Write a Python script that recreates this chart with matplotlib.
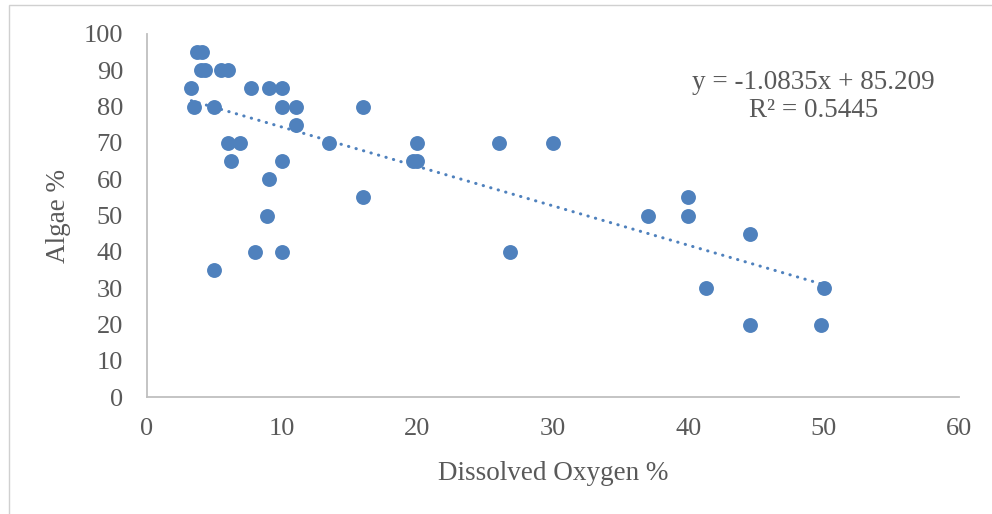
import matplotlib
matplotlib.use('Agg')
import matplotlib.pyplot as plt
import numpy as np
from matplotlib.patches import Rectangle

# dissolved oxygen (%) vs algae (%)
oxygen = [3.7, 4.1,
          4.0, 4.3, 5.5, 6.0,
          3.3, 7.7, 9.0, 10.0,
          3.5, 5.0, 10.0, 11.0, 16.0,
          11.0,
          6.0, 6.9, 13.5, 20.0, 26.0, 30.0,
          6.2, 10.0, 19.7, 20.0,
          9.0,
          16.0, 40.0,
          8.9, 37.0, 40.0,
          44.6,
          8.0, 10.0, 26.8,
          5.0,
          41.3, 50.0,
          44.6, 49.8]
algae = [95, 95,
         90, 90, 90, 90,
         85, 85, 85, 85,
         80, 80, 80, 80, 80,
         75,
         70, 70, 70, 70, 70, 70,
         65, 65, 65, 65,
         60,
         55, 55,
         50, 50, 50,
         45,
         40, 40, 40,
         35,
         30, 30,
         20, 20]

slope = -1.0835
intercept = 85.209
r_squared = 0.5445

blue = '#4F81BD'
grey_text = '#595959'
axis_grey = '#BFBFBF'

plt.rcParams['font.family'] = ['Liberation Serif', 'DejaVu Serif']

fig = plt.figure(figsize=(9.92, 5.14), dpi=100)
ax = fig.add_axes([0.1479, 0.2270, 0.8188, 0.7069])

ax.scatter(oxygen, algae, s=115, color=blue, linewidths=0, zorder=3)

xs = np.array([min(oxygen), max(oxygen)])
ax.plot(xs, slope * xs + intercept, color=blue, linewidth=2.2,
        linestyle=(0, (0.1, 2.45)), dash_capstyle='round', zorder=2)

ax.set_xlim(0, 60)
ax.set_ylim(0, 100)
ax.set_xticks(np.arange(0, 61, 10))
ax.set_yticks(np.arange(0, 101, 10))
ax.tick_params(axis='both', length=0, labelsize=19, colors=grey_text)
ax.tick_params(axis='y', pad=17)
ax.tick_params(axis='x', pad=15)

for side in ['top', 'right']:
    ax.spines[side].set_visible(False)
for side in ['left', 'bottom']:
    ax.spines[side].set_color(axis_grey)
    ax.spines[side].set_linewidth(1.3)

ax.set_xlabel('Dissolved Oxygen %', fontsize=19.5, color=grey_text, va='center')
ax.xaxis.set_label_coords(0.5, -0.210)
ax.set_ylabel('Algae %', fontsize=19.5, color=grey_text, va='center', ha='center')
ax.yaxis.set_label_coords(-0.108, 0.5)

ax.text(0.820, 0.839, 'y = %.4fx + %.3f' % (slope, intercept), transform=fig.transFigure,
        ha='center', va='center', fontsize=19.5, color=grey_text)
ax.text(0.820, 0.785, 'R² = %.4f' % r_squared, transform=fig.transFigure,
        ha='center', va='center', fontsize=19.5, color=grey_text)

# chart frame, only left and top edges fall inside the picture
fig.patches.append(Rectangle((9 / 992, -0.1), 1.2, (1 - 5 / 514) + 0.1,
                             transform=fig.transFigure, fill=False,
                             edgecolor='#D0D0D0', linewidth=1.0))

fig.savefig('out.png', dpi=100)
